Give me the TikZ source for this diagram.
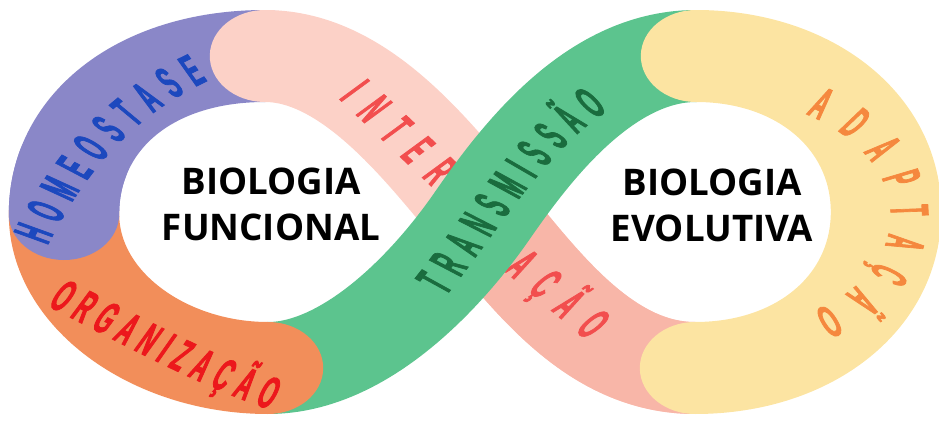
\documentclass[tikz,border=0pt]{standalone}
\usepackage{fontspec}
\usetikzlibrary{decorations.text}

\newfontfamily\bandfont[UprightFont={* Bold}, FakeStretch=0.4, FakeBold=1.5, Scale=3.4]{Liberation Sans}
\newfontfamily\titlefont{Open Sans}

\definecolor{homeoBand}{RGB}{138,135,200}
\definecolor{homeoText}{RGB}{28,72,190}
\definecolor{interLight}{RGB}{252,209,199}
\definecolor{interDark}{RGB}{248,182,168}
\definecolor{interText}{RGB}{242,78,78}
\definecolor{orgBand}{RGB}{242,142,90}
\definecolor{orgText}{RGB}{236,24,28}
\definecolor{transBand}{RGB}{92,196,142}
\definecolor{transText}{RGB}{26,108,62}
\definecolor{adaptBand}{RGB}{252,228,162}
\definecolor{adaptText}{RGB}{245,136,62}

\tikzset{every picture/.style={line width=0.75pt}}
\tikzset{
  band/.style={line width=69pt, line cap=round},
  bandtext/.style={decorate, decoration={text along path, text align={fit to path}, raise=-12pt, text color=#1}},
  titletext/.style={font=\titlefont\bfseries\fontsize{27.5}{34.5}\selectfont, align=center, inner sep=0pt, text=black}
}

\begin{document}
\begin{tikzpicture}[x=0.75pt,y=0.75pt,yscale=-1,xscale=1]
	\useasboundingbox (0,0) rectangle (939,421);

	\begin{scope}[transform canvas={xscale=1.2}, x=0.625pt]
	%Curve Lines (homeostase)
	\draw [band, homeoBand] (265,56) .. controls (145,56) and (64,122) .. (64,214) ;
	%Curve Lines (interacao)
	\draw [band, interLight] (695,368) .. controls (600,368) and (537,282) .. (482,216) .. controls (427,150) and (355,56) .. (265,56) ;
	\draw [band, line cap=butt, interDark] (695,368) .. controls (600,368) and (537,282) .. (482,216) ;
	\path [bandtext=interText, decoration={text={|\bandfont|INTER}}] (353,88) -- (446,176) ;
	\path [bandtext=interText, decoration={text={|\bandfont|AÇÃO}}] (517,259) -- (600,329) ;
	%Curve Lines (transmissao)
	\draw [band, transBand] (268,368) .. controls (355,368) and (437,281) .. (482,216) .. controls (527,151) and (600,56) .. (696,56) ;
	\path [bandtext=transText, decoration={text={|\bandfont|TRANSMISSÃO}}] (430,287) .. controls (480,225) and (530,140) .. (596,98) ;
	%Curve Lines (adaptacao)
	\draw [band, adaptBand] (696,56) .. controls (805,56) and (886,122) .. (886,212) .. controls (886,302) and (805,368) .. (695,368) ;
	\path [bandtext=adaptText, decoration={text={|\bandfont|ADAPTAÇÃO}}] (815,100) .. controls (875,125) and (910,170) .. (910,215) .. controls (910,262) and (875,305) .. (822,325) ;
	%Curve Lines (organizacao)
	\draw [band, orgBand] (64,214) .. controls (64,300) and (160,368) .. (268,368) ;
	\path [bandtext=orgText, decoration={text={|\bandfont|ORGANIZAÇÃO}}] (57,292) .. controls (128,328) and (200,368) .. (277,395) ;
	%Curve Lines (homeostase end, laid over organizacao)
	\draw [band, homeoBand] (73.4,162.3) .. controls (67.2,178.2) and (64,195.6) .. (64,214) ;
	\path [bandtext=homeoText, decoration={text={|\bandfont|HOMEOSTASE}}] (30,239) .. controls (68,164) and (117,105) .. (198,67) ;
	\end{scope}

	% Text Node
	\node [titletext] (funcional) at (271,204) {BIOLOGIA\\FUNCIONAL};
	% Text Node
	\node [titletext] (evolutiva) at (712,205) {BIOLOGIA\\EVOLUTIVA};
\end{tikzpicture}
\end{document}
